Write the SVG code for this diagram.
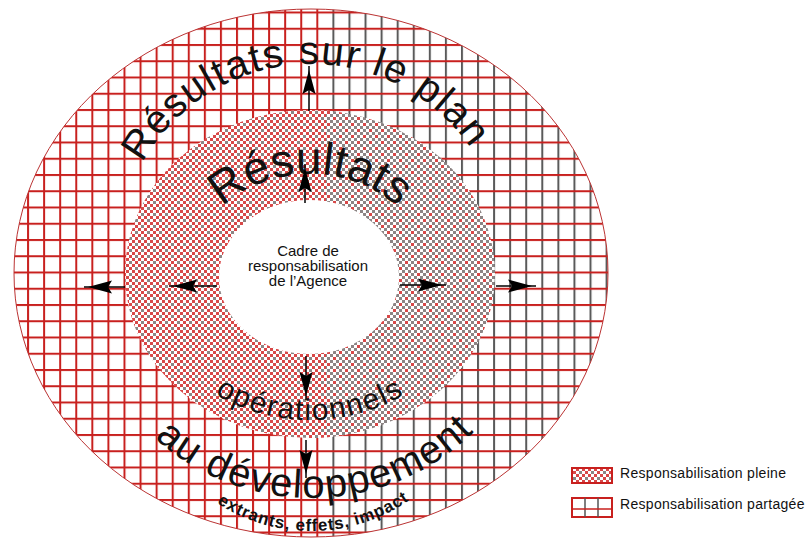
<svg xmlns="http://www.w3.org/2000/svg" width="811" height="540" viewBox="0 0 811 540">
<style>
text{font-family:"Liberation Sans",Arial,sans-serif;fill:#111}
.big{font-size:40px;letter-spacing:1.5px}
.mid{font-size:46px}
.op{font-size:30px;letter-spacing:1.5px}
.sm{font-size:17px;font-weight:bold;letter-spacing:0.8px}
.ctr{font-size:15px;text-anchor:middle}
.leg{font-size:14px;letter-spacing:0.3px}
.arrow{stroke:#000;stroke-width:1.5;fill:none;marker-end:url(#ah)}
.red{stroke:#c8201e}
</style>
<defs>
  <marker id="ah" markerUnits="userSpaceOnUse" markerWidth="40" markerHeight="20" refX="28" refY="0" orient="auto" overflow="visible">
    <path d="M24,0 L0,-6.5 L4,0 L0,6.5Z" fill="#000"/>
  </marker>
  <pattern id="vR" patternUnits="userSpaceOnUse" x="11" y="0" width="16.07" height="20"><rect width="2" height="20" fill="#c8201e"/></pattern>
  <pattern id="vG" patternUnits="userSpaceOnUse" x="11" y="0" width="16.07" height="20"><rect width="2" height="20" fill="#5a5a5a"/></pattern>
  <pattern id="hR" patternUnits="userSpaceOnUse" x="0" y="271.5" width="20" height="16.25"><rect width="20" height="2" fill="#c8201e"/></pattern>
  <pattern id="chL" patternUnits="userSpaceOnUse" width="12" height="12">
    <rect width="12" height="12" fill="#fff"/>
    <path d="M0,0h3v3h-3z M6,0h3v3h-3z M9,3h3v3h-3z M0,6h3v3h-3z M6,6h3v3h-3z M3,9h3v3h-3z" fill="#d84848"/>
    <path d="M3,3h3v3h-3z M9,9h3v3h-3z" fill="#8c8484"/>
  </pattern>
  <pattern id="chR" patternUnits="userSpaceOnUse" width="12" height="12">
    <rect width="12" height="12" fill="#fff"/>
    <path d="M0,0h3v3h-3z M6,0h3v3h-3z M9,3h3v3h-3z M0,6h3v3h-3z M6,6h3v3h-3z M3,9h3v3h-3z" fill="#8c8484"/>
    <path d="M3,3h3v3h-3z M9,9h3v3h-3z" fill="#d84848"/>
  </pattern>
  <clipPath id="cOut"><ellipse cx="311" cy="273" rx="297" ry="264"/></clipPath>
  <clipPath id="hl"><rect x="0" y="0" width="326" height="540"/></clipPath>
  <clipPath id="hr"><rect x="326" y="0" width="485" height="540"/></clipPath>
  <path id="pTopO" d="M116,262 A195,198 0 0 1 506,262" fill="none"/>
  <path id="pTopI" d="M192,274 A118,100 0 0 1 428,274" fill="none"/>
  <path id="pBotI" d="M143,274 A167,146 0 0 0 477,274" fill="none"/>
  <path id="pBotO" d="M81,273 A230,225 0 0 0 541,273" fill="none"/>
  <path id="pBotS" d="M139,359 A172,172 0 0 0 483,359" fill="none"/>
</defs>

<g id="outer-ring">
  <ellipse cx="311" cy="273" rx="297" ry="264" fill="#fff"/>
  <g clip-path="url(#cOut)">
    <rect x="0" y="0" width="326" height="540" fill="url(#vR)"/>
    <rect x="326" y="0" width="485" height="540" fill="url(#vG)"/>
    <rect x="0" y="0" width="811" height="540" fill="url(#hR)"/>
  </g>
  <ellipse cx="311" cy="273" rx="297" ry="264" fill="none" stroke="#b33" stroke-width="1"/>
  <text class="big"><textPath href="#pTopO" startOffset="48.7%" text-anchor="middle">Résultats sur le plan</textPath></text>
  <text class="big"><textPath href="#pBotO" startOffset="50.7%" text-anchor="middle">au développement</textPath></text>
  <text class="sm"><textPath href="#pBotS" startOffset="50.5%" text-anchor="middle">extrants, effets, impact</textPath></text>
</g>

<g id="inner-ring">
  <ellipse cx="310" cy="274" rx="185" ry="164" fill="url(#chL)" clip-path="url(#hl)"/>
  <ellipse cx="310" cy="274" rx="185" ry="164" fill="url(#chR)" clip-path="url(#hr)"/>
  <text class="mid"><textPath href="#pTopI" startOffset="50%" text-anchor="middle">Résultats</textPath></text>
  <text class="op"><textPath href="#pBotI" startOffset="50%" text-anchor="middle">opérationnels</textPath></text>
</g>

<g id="center">
  <ellipse cx="309" cy="277" rx="90" ry="77" fill="#fff"/>
  <text class="ctr" x="308" y="256">Cadre de</text>
  <text class="ctr" x="308" y="271">responsabilisation</text>
  <text class="ctr" x="308" y="286">de l’Agence</text>
</g>

<g id="connectors">
  <line class="arrow" x1="309" y1="111" x2="309" y2="66"/>
  <line class="arrow" x1="305" y1="203" x2="305" y2="164"/>
  <line class="arrow" x1="306" y1="356" x2="306" y2="400"/>
  <line class="arrow" x1="306" y1="440" x2="306" y2="478"/>
  <line class="arrow" x1="125" y1="287" x2="84" y2="287"/>
  <line class="arrow" x1="217" y1="286" x2="169" y2="286"/>
  <line class="arrow" x1="400" y1="285" x2="446" y2="285"/>
  <line class="arrow" x1="496" y1="286" x2="536" y2="286"/>
</g>

<g id="legend">
  <rect x="572" y="468" width="40" height="15" fill="url(#chL)" stroke="#c8201e" stroke-width="2"/>
  <text class="leg" x="620" y="478">Responsabilisation pleine</text>
  <rect x="572" y="498" width="40" height="19" fill="#fff" stroke="#c8201e" stroke-width="2"/>
  <path d="M585,498V517M598,498V517" stroke="#555" stroke-width="1.5"/>
  <path class="red" d="M572,509H612" stroke-width="1.5"/>
  <text class="leg" x="620" y="509">Responsabilisation partagée</text>
</g>
</svg>
